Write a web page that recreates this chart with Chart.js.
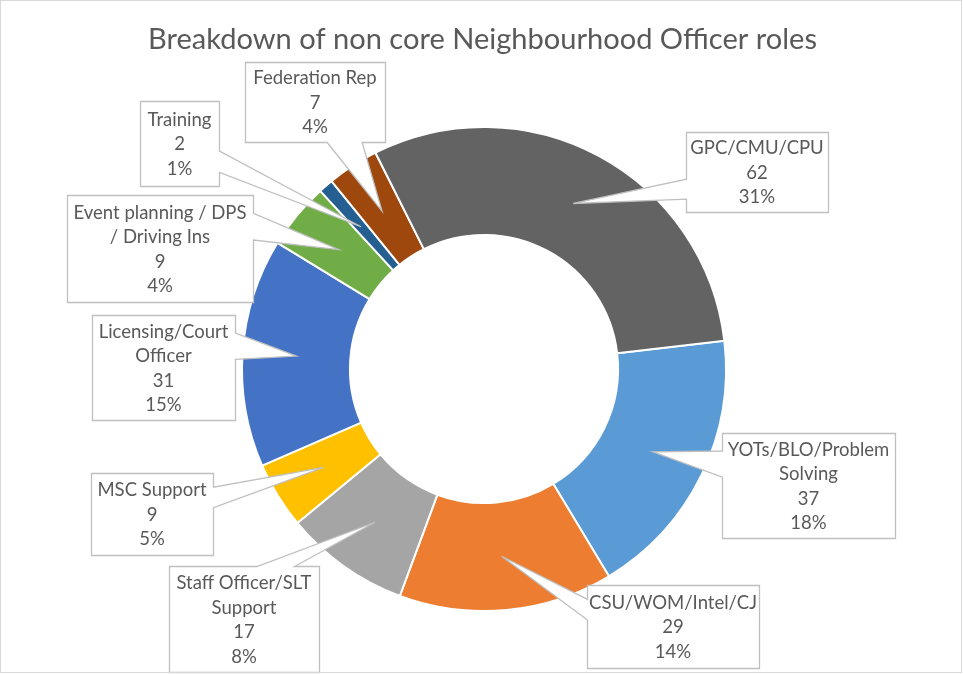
<!DOCTYPE html>
<html>
<head>
<meta charset="utf-8">
<script src="https://cdn.jsdelivr.net/npm/chart.js@4/dist/chart.umd.min.js"></script>
<style>
  html, body { margin: 0; padding: 0; background: #ffffff; }
  #wrap { width: 963px; height: 675px; position: relative; }
</style>
</head>
<body>
<div id="wrap"><canvas id="c" width="963" height="675"></canvas></div>
<script>
// ---- data (Excel point order) ----
const chartTitle = "Breakdown of non core Neighbourhood Officer roles";
const categories = [
  "YOTs/BLO/Problem Solving",
  "CSU/WOM/Intel/CJ",
  "Staff Officer/SLT Support",
  "MSC Support",
  "Licensing/Court Officer",
  "Event planning / DPS / Driving Ins",
  "Training",
  "Federation Rep",
  "GPC/CMU/CPU"
];
const values = [37, 29, 17, 9, 31, 9, 2, 7, 62];
const percentLabels = ["18%", "14%", "8%", "5%", "15%", "4%", "1%", "4%", "31%"];

// ---- styles / layout ----
const colors = ["#5B9BD5", "#ED7D31", "#A5A5A5", "#FFC000", "#4472C4", "#70AD47", "#255E91", "#9E480E", "#636363"];
// callout boxes [left, top, right, bottom] in canvas px
const calloutBoxes = [
  [722, 433, 895, 538],
  [587, 585, 759, 668],
  [169, 566, 319, 672],
  [91, 473, 213, 555],
  [92, 315, 235, 420],
  [67, 195, 253, 302],
  [140, 101, 219, 186],
  [245, 62, 385, 142],
  [686, 132, 828, 212]
];
// optional wedge override (tip treated as above box centre)
const calloutForceAbove = [false, false, false, false, false, true, false, false, false];

const FONT = "Lato, 'Open Sans', 'Noto Sans', sans-serif";
const TEXT_COLOR = "#595959";
const BOX_COLOR = "#BFBFBF";

function fitSize(ctx, texts, targetWidth) {
  ctx.font = "100px " + FONT;
  let s = 0;
  texts.forEach(t => s += ctx.measureText(t).width);
  return 100 * targetWidth / s;
}

function wrap(ctx, text, maxW) {
  const words = text.split(" ");
  const lines = [];
  let cur = "";
  words.forEach(w => {
    const test = cur ? cur + " " + w : w;
    if (cur && ctx.measureText(test).width > maxW) {
      lines.push(cur);
      cur = w;
    } else {
      cur = test;
    }
  });
  if (cur) lines.push(cur);
  return lines;
}

function calloutPath(ctx, l, t, r, b, tx, ty, forceAbove) {
  const w = r - l, h = b - t;
  const hc = l + w / 2, vc = t + h / 2;
  const dxPos = tx - hc;
  let dyPos = ty - vc;
  if (forceAbove && dyPos > 0) dyPos = -0.001;
  const dq = dxPos * h / w;
  const dz = Math.abs(dyPos) - Math.abs(dq);
  const x1 = l + w * (dxPos > 0 ? 7 : 2) / 12;
  const x2 = l + w * (dxPos > 0 ? 10 : 5) / 12;
  const y1 = t + h * (dyPos > 0 ? 7 : 2) / 12;
  const y2 = t + h * (dyPos > 0 ? 10 : 5) / 12;
  ctx.beginPath();
  ctx.moveTo(l, t);
  if (dz > 0 && dyPos < 0) { ctx.lineTo(x1, t); ctx.lineTo(tx, ty); ctx.lineTo(x2, t); }
  ctx.lineTo(r, t);
  if (dz <= 0 && dxPos > 0) { ctx.lineTo(r, y1); ctx.lineTo(tx, ty); ctx.lineTo(r, y2); }
  ctx.lineTo(r, b);
  if (dz > 0 && dyPos > 0) { ctx.lineTo(x2, b); ctx.lineTo(tx, ty); ctx.lineTo(x1, b); }
  ctx.lineTo(l, b);
  if (dz <= 0 && dxPos < 0) { ctx.lineTo(l, y2); ctx.lineTo(tx, ty); ctx.lineTo(l, y1); }
  ctx.closePath();
}

const calloutPlugin = {
  id: "callouts",
  beforeDraw(chart) {
    const ctx = chart.ctx;
    ctx.save();
    ctx.fillStyle = "#ffffff";
    ctx.fillRect(0, 0, chart.width, chart.height);
    ctx.restore();
  },
  afterDatasetsDraw(chart) {
    const ctx = chart.ctx;
    const meta = chart.getDatasetMeta(0);
    const size = fitSize(ctx, ["Federation Rep", "Event planning / DPS", "YOTs/BLO/Problem"], 125 + 171.7 + 161.7);
    const lineH = 24.5;
    ctx.save();
    meta.data.forEach((arc, i) => {
      const p = arc.getCenterPoint(true);
      const [l, t, r, b] = calloutBoxes[i];
      ctx.font = size + "px " + FONT;
      calloutPath(ctx, l + 0.5, t + 0.5, r + 0.5, b + 0.5, p.x, p.y, calloutForceAbove[i]);
      ctx.fillStyle = "#ffffff";
      ctx.fill();
      ctx.lineWidth = 1.3;
      ctx.strokeStyle = BOX_COLOR;
      ctx.lineJoin = "miter";
      ctx.stroke();
      const lines = wrap(ctx, categories[i], (r - l) - 6).concat([String(values[i]), percentLabels[i]]);
      ctx.fillStyle = TEXT_COLOR;
      ctx.textAlign = "center";
      ctx.textBaseline = "middle";
      const cx = (l + r) / 2;
      const cy = (t + b) / 2 + 1;
      const y0 = cy - (lines.length - 1) * lineH / 2;
      lines.forEach((ln, k) => ctx.fillText(ln, cx, y0 + k * lineH));
    });
    // title
    const ts = fitSize(ctx, [chartTitle], 669);
    ctx.font = ts + "px " + FONT;
    ctx.fillStyle = TEXT_COLOR;
    ctx.textAlign = "center";
    ctx.textBaseline = "alphabetic";
    ctx.fillText(chartTitle, 482.5, 49);
    // chart border
    ctx.strokeStyle = "#D9D9D9";
    ctx.lineWidth = 1;
    ctx.strokeRect(0.5, 0.5, 961, 672);
    ctx.restore();
  }
};

new Chart(document.getElementById("c"), {
  type: "doughnut",
  data: {
    labels: categories,
    datasets: [{
      data: values,
      backgroundColor: colors,
      borderColor: "#ffffff",
      borderWidth: 2
    }]
  },
  options: {
    responsive: false,
    animation: false,
    rotation: 83.3,
    cutout: "55.4%",
    layout: { padding: { left: 5, right: 0, top: 126, bottom: 63 } },
    plugins: {
      legend: { display: false },
      tooltip: { enabled: false },
      title: { display: false }
    }
  },
  plugins: [calloutPlugin]
});
</script>
</body>
</html>
